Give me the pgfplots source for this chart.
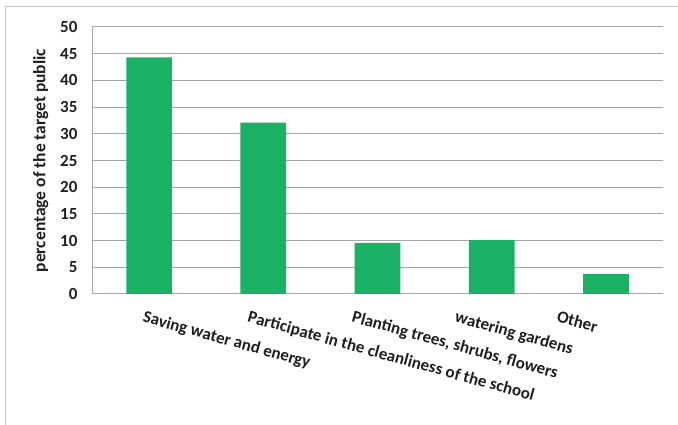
\documentclass[border=0pt]{standalone}
\usepackage{fontspec}
\setmainfont{Carlito}
\usepackage{pgfplots}
\pgfplotsset{compat=1.18}
\definecolor{barGreen}{RGB}{27,177,101}
\definecolor{gridGray}{RGB}{166,166,166}
\definecolor{frameGray}{RGB}{200,200,200}
\begin{document}
\begin{tikzpicture}[x=1pt,y=1pt]
\useasboundingbox (0,0) rectangle (678,425);
% outer chart frame
\draw[frameGray, line width=1pt] (5,-20) -- (5,418) -- (700,418);
\begin{axis}[
  at={(92pt,131pt)}, anchor=south west,
  scale only axis, width=571pt, height=267pt,
  xmin=-0.5, xmax=4.5, ymin=0, ymax=50,
  ytick={0,5,...,50},
  xtick={-0.035,0.884,1.795,2.697,3.590},
  xticklabels={Saving water and energy,
               Participate in the cleanliness of the school,
               {Planting trees, shrubs, flowers},
               watering gardens,
               Other},
  axis x line*=bottom, axis y line*=left,
  axis line style={gridGray, line width=1pt, -},
  major tick length=0pt,
  ymajorgrids, grid style={gridGray, line width=1pt},
  tick label style={font=\fontsize{17}{19}\selectfont\bfseries, text=black!88},
  /pgf/number format/assume math mode=true,
  yticklabel style={xshift=-11pt},
  xticklabel style={yshift=-16pt, rotate=-15.5, anchor=north west, inner sep=0pt},
  ylabel={percentage of the target public},
  ylabel style={font=\fontsize{17.5}{19}\selectfont\bfseries, text=black!88,
                at={(axis description cs:-0.09,0.5)}, anchor=center},
  ybar, bar width=45.7pt,
]
\addplot[fill=barGreen, draw=none] coordinates {
  (0,44.3) (1,32.1) (2,9.55) (3,10.1) (4,3.7)
};
\end{axis}
\end{tikzpicture}
\end{document}
